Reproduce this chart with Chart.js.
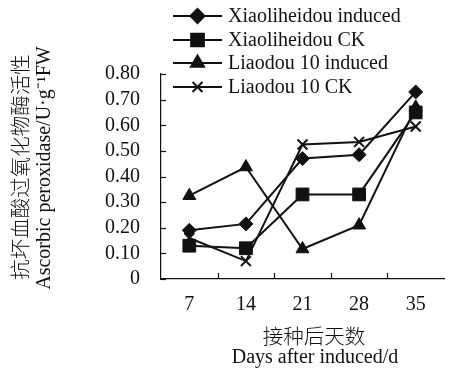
<!DOCTYPE html>
<html><head><meta charset="utf-8">
<script src="https://cdn.jsdelivr.net/npm/chart.js@4/dist/chart.umd.min.js"></script>
<style>html,body{margin:0;padding:0;background:#fff}#w{width:454px;height:372px}</style>
</head><body><div id="w"><canvas id="c" width="454" height="372"></canvas></div>
<script>
const categories = ['7', '14', '21', '28', '35'];
const xiaoInduced = [0.19, 0.215, 0.47, 0.485, 0.73];
const xiaoCK = [0.13, 0.12, 0.33, 0.33, 0.65];
const liaoInduced = [0.325, 0.437, 0.117, 0.21, 0.67];
const liaoCK = [0.16, 0.07, 0.525, 0.535, 0.595];
const seriesNames = ['Xiaoliheidou induced', 'Xiaoliheidou CK', 'Liaodou 10 induced', 'Liaodou 10 CK'];
const yTitle = ['抗坏血酸过氧化物酶活性', 'Ascorbic peroxidase/U·g⁻¹FW'];
const xTitle = ['接种后天数', 'Days after induced/d'];

const FONT = "'Liberation Serif', 'Noto Sans CJK SC', serif";
const CJK = "300 20.5px 'Noto Sans CJK SC', serif";
const INK = '#111';

function ds(label, data, style, r) {
  return { label, data, borderColor: INK, backgroundColor: INK, borderWidth: 2,
    pointStyle: style, pointRadius: r, pointHoverRadius: r, pointBorderWidth: style === 'crossRot' ? 2 : 1,
    tension: 0, fill: false };
}

const decor = {
  id: 'decor',
  afterDraw(chart) {
    const ctx = chart.ctx;
    const xs = chart.scales.x, ys = chart.scales.y;
    const a = chart.chartArea;
    ctx.save();
    ctx.strokeStyle = INK; ctx.lineWidth = 1.2;
    ys.ticks.forEach(t => {
      const py = Math.round(ys.getPixelForValue(t.value)) + 0.5;
      ctx.beginPath(); ctx.moveTo(a.left, py); ctx.lineTo(a.left + 5, py); ctx.stroke();
    });
    for (let i = 1; i < categories.length; i++) {
      const px = Math.round((xs.getPixelForTick(i - 1) + xs.getPixelForTick(i)) / 2) + 0.5;
      ctx.beginPath(); ctx.moveTo(px, a.bottom); ctx.lineTo(px, a.bottom - 6); ctx.stroke();
    }
    ctx.fillStyle = INK;
    ctx.textAlign = 'center'; ctx.textBaseline = 'middle';
    ctx.save();
    ctx.translate(20, 167); ctx.rotate(-Math.PI / 2);
    ctx.font = CJK;
    ctx.fillText(yTitle[0], 0, 0);
    ctx.restore();
    ctx.save();
    ctx.translate(45, 168); ctx.rotate(-Math.PI / 2);
    ctx.font = '20px ' + FONT;
    ctx.fillText(yTitle[1], 0, 0);
    ctx.restore();
    ctx.font = CJK;
    ctx.fillText(xTitle[0], 314, 336);
    ctx.font = '20px ' + FONT;
    ctx.fillText(xTitle[1], 315, 358);
    const rows = [16, 40, 63, 87];
    chart.data.datasets.forEach((d, i) => {
      const y = rows[i];
      ctx.strokeStyle = INK; ctx.lineWidth = 2;
      ctx.beginPath(); ctx.moveTo(173, y); ctx.lineTo(222, y); ctx.stroke();
      Chart.helpers.drawPoint(ctx, { pointStyle: d.pointStyle, radius: d.pointRadius, borderWidth: d.pointBorderWidth, rotation: 0 }, 197.5, y);
      ctx.fillStyle = INK;
      ctx.font = '20px ' + FONT;
      ctx.textAlign = 'left';
      ctx.fillText(d.label, 228, y + 1);
    });
    ctx.restore();
  }
};

new Chart(document.getElementById('c'), {
  type: 'line',
  data: {
    labels: categories,
    datasets: [
      ds(seriesNames[0], xiaoInduced, 'rectRot', 7),
      ds(seriesNames[1], xiaoCK, 'rect', 9),
      ds(seriesNames[2], liaoInduced, 'triangle', 7.5),
      ds(seriesNames[3], liaoCK, 'crossRot', 7)
    ]
  },
  options: {
    responsive: false, animation: false,
    layout: { padding: { top: 74, right: 0, left: 0, bottom: 0 } },
    plugins: { legend: { display: false }, tooltip: { enabled: false } },
    scales: {
      x: {
        offset: true,
        grid: { display: false, offset: true },
        border: { display: true, color: INK, width: 1.2 },
        ticks: { color: INK, font: { family: FONT, size: 20 }, padding: 6, maxRotation: 0, autoSkip: false },
        afterFit(s) { s.height = 93; }
      },
      y: {
        min: 0, max: 0.8,
        grid: { display: false },
        border: { display: true, color: INK, width: 1.2 },
        ticks: { stepSize: 0.1, autoSkip: false, color: INK, font: { family: FONT, size: 20 }, padding: 13,
          callback: v => (Math.abs(v) < 1e-9 ? '0' : v.toFixed(2)) },
        afterFit(s) { s.width = 161; }
      }
    }
  },
  plugins: [decor]
});
</script></body></html>
